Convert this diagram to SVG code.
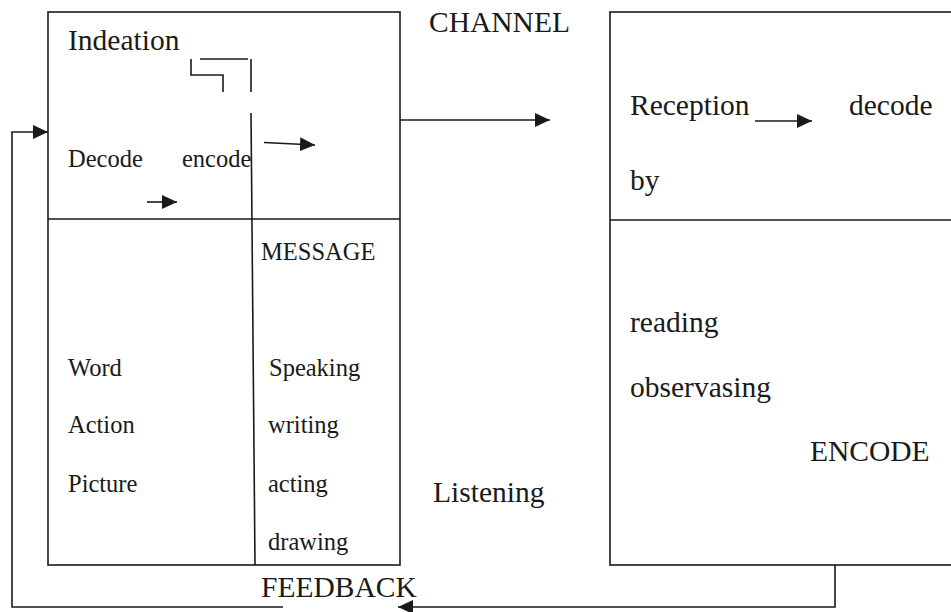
<svg xmlns="http://www.w3.org/2000/svg" width="951" height="612" viewBox="0 0 951 612">
<style>
.ln{stroke:#1a1a1a;stroke-width:1.6;fill:none}
text{font-family:'Liberation Serif','Times New Roman',Times,serif;fill:#1a1a1a}
.big{font-size:29.5px}
.mid{font-size:24.5px}
</style>
<defs>
<marker id="ah" markerUnits="userSpaceOnUse" markerWidth="16" markerHeight="14" refX="15" refY="7" orient="auto">
<path d="M0,0 L15,7 L0,14 Z" fill="#1a1a1a"/>
</marker>
</defs>
<rect width="951" height="612" fill="#fff"/>
<g id="sender" font-family="Liberation Serif, serif">
<rect class="ln" x="48" y="12" width="352" height="553"/>
<line class="ln" x1="48" y1="219" x2="400" y2="219"/>
<line class="ln" x1="251" y1="113" x2="255" y2="565"/>
<path class="ln" d="M191,59 V75 H223 V92"/>
<line class="ln" x1="200" y1="59" x2="248" y2="59"/>
<line class="ln" x1="251" y1="59" x2="251" y2="92"/>
<text class="big" x="68" y="50">Indeation</text>
<text class="mid" x="68" y="167">Decode</text>
<text class="mid" x="182" y="167">encode</text>
<text class="mid" x="261" y="260">MESSAGE</text>
<text class="mid" x="68" y="376">Word</text>
<text class="mid" x="68" y="433">Action</text>
<text class="mid" x="68" y="492">Picture</text>
<text class="mid" x="269" y="376">Speaking</text>
<text class="mid" x="268" y="433">writing</text>
<text class="mid" x="268" y="492">acting</text>
<text class="mid" x="268" y="550">drawing</text>
</g>
<g id="receiver">
<rect class="ln" x="610" y="12" width="360" height="553"/>
<line class="ln" x1="610" y1="220" x2="951" y2="220"/>
<text class="big" x="630" y="115">Reception</text>
<text class="big" x="849" y="115">decode</text>
<text class="big" x="630" y="190">by</text>
<text class="big" x="630" y="332">reading</text>
<text class="big" x="630" y="397">observasing</text>
<text class="big" x="810" y="461">ENCODE</text>
</g>
<g id="labels">
<text class="big" x="429" y="32">CHANNEL</text>
<text class="big" x="433" y="502">Listening</text>
<text class="big" x="261" y="597">FEEDBACK</text>
</g>
<g id="connectors">
<line class="ln" x1="400" y1="120" x2="550" y2="120" marker-end="url(#ah)"/>
<line class="ln" x1="264" y1="142.5" x2="315" y2="145" marker-end="url(#ah)"/>
<line class="ln" x1="147" y1="202" x2="177" y2="202" marker-end="url(#ah)"/>
<line class="ln" x1="755" y1="121" x2="812" y2="121" marker-end="url(#ah)"/>
<polyline class="ln" points="835,565 835,607 398,607" marker-end="url(#ah)"/>
<polyline class="ln" points="283,607 12,607 12,132 48,132" marker-end="url(#ah)"/>
</g>
</svg>
